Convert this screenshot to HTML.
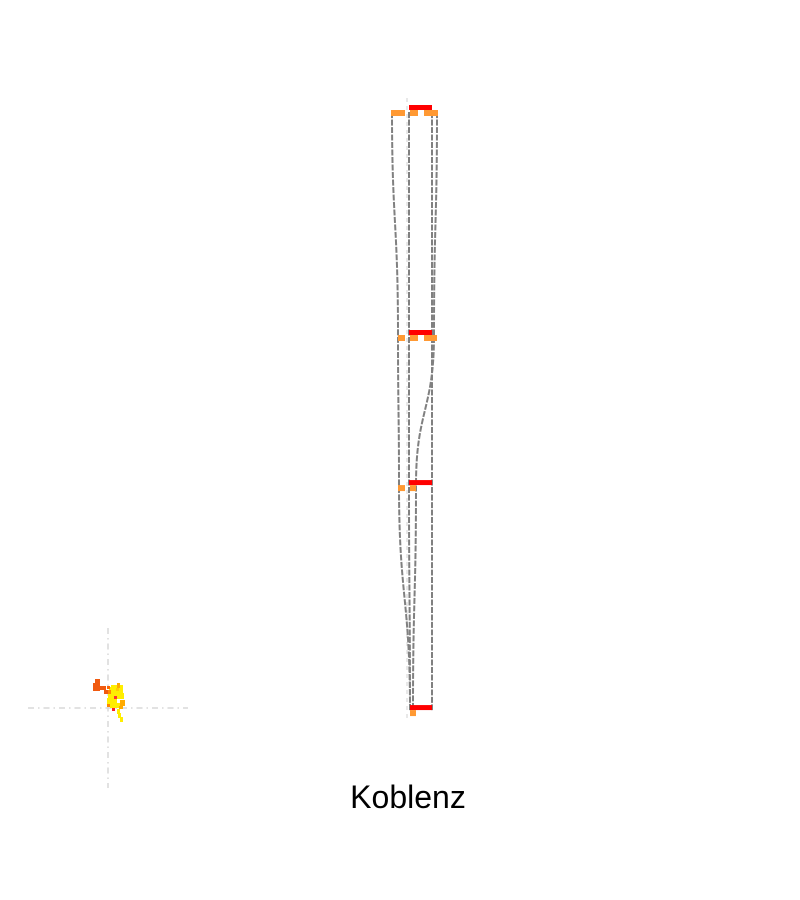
<!DOCTYPE html>
<html><head><meta charset="utf-8"><style>
html,body{margin:0;padding:0;background:#fff;}
svg{display:block;}
</style></head><body>
<svg id="chart" width="800" height="900" xmlns="http://www.w3.org/2000/svg">
<g id="tree"></g>
<g id="scatter"></g>
<text x="408" y="808" text-anchor="middle" font-family="Liberation Sans, sans-serif" font-size="32" fill="#000">Koblenz</text>
</svg>
<script>
const levels = [0, 1, 2, 3];
const levelY = [0, 1, 1.667, 2.667];
const pathLeft = [392, 398, 399, 410];
const pathMidL = [409, 409, 409, 410];
const pathMidR = [432, 432, 432, 432];
const pathRight = [437, 434, 416, 413];
const paths = [pathLeft, pathMidL, pathMidR, pathRight];
const redBars = [[409,432],[409,432],[409,432],[410,432]];
const orangeTicks = [
  [[391,405],[410,418],[424,438]],
  [[398,405],[410,418],[424,437]],
  [[398,405],[410,416]],
  [[410,416]]
];
// scatter cluster cells: dx, dy, w, h, color
const clusterX = [-13,-15,-10,-4,1,0,3,-1,2,4,9,12,0,6,-1,11,8,-1,4];
const clusterY = [-29,-25,-22,-18,-21,-15,-23,-10,-5,-3,-25,-8,-18,-12,-4,-2,-20,-22,0];
const clusterW = [5,7,8,6,14,16,12,10,10,10,3,5,3,3,3,4,3,3,3];
const clusterH = [6,8,4,4,6,6,4,6,5,3,5,6,4,3,3,3,3,3,3];
const clusterC = ["#f05a10","#f05a10","#f05a10","#f05a10","#ffee00","#ffee00","#ffee00","#ffee00","#ffee00","#ffee00","#ffaa00","#ffaa00","#ff8800","#ff3030","#ff8800","#ffaa00","#ffcc00","#ff6600","#ff2020"];
const tailX = [9,10,12];
const tailY = [1,5,9];

const ns = "http://www.w3.org/2000/svg";
function yScale(i){ return 110 + levelY[i] * 225; }
function el(tag, attrs, parent){ const e=document.createElementNS(ns,tag); for(const k in attrs) e.setAttribute(k,attrs[k]); parent.appendChild(e); return e; }

const tree = document.getElementById('tree');
const g = el('line',{x1:407,y1:98,x2:407,y2:722,stroke:'#e0e0e0','stroke-width':1.5,'stroke-dasharray':'4,4'},tree);



paths.forEach((p,pi)=>{
  let d = `M${p[0]},${yScale(0)+2}`;
  for(let i=1;i<p.length;i++){
    const y0=yScale(i-1), y1=yScale(i), ym=(y0+y1)/2;
    d += ` C${p[i-1]},${ym} ${p[i]},${ym} ${p[i]},${y1}`;
  }
  const e = el('path',{d:d,fill:'none',stroke:'#808080','stroke-width':2,'stroke-dasharray':'6,1.5'},tree);
  
  
});
redBars.forEach((b,i)=>{
  const y=yScale(i);
  const e = el('rect',{x:b[0],y:y-5,width:b[1]-b[0],height:5,fill:'#ff0000'},tree);
  
  
});
orangeTicks.forEach((ts,i)=>{
  const y=yScale(i);
  ts.forEach((t,j)=>{
    const e = el('rect',{x:t[0],y:y,width:t[1]-t[0],height:6,fill:'#ff9933'},tree);
    
    
  });
});

const sc = document.getElementById('scatter');
const cx=108, cy=708;
const h = el('line',{x1:28,y1:cy,x2:188,y2:cy,stroke:'#d8d8d8','stroke-width':1.5,'stroke-dasharray':'6,4,1.5,4'},sc);


const v = el('line',{x1:cx,y1:628,x2:cx,y2:788,stroke:'#d8d8d8','stroke-width':1.5,'stroke-dasharray':'6,4,1.5,4'},sc);


clusterX.forEach((x,i)=>{
  const e = el('rect',{x:cx+x,y:cy+clusterY[i],width:clusterW[i],height:clusterH[i],fill:clusterC[i]},sc);
  
  
});
tailX.forEach((x,i)=>{
  const e = el('rect',{x:cx+x,y:cy+tailY[i],width:3,height:5,fill:'#ffee00'},sc);
  
  
});
</script>
</body></html>
